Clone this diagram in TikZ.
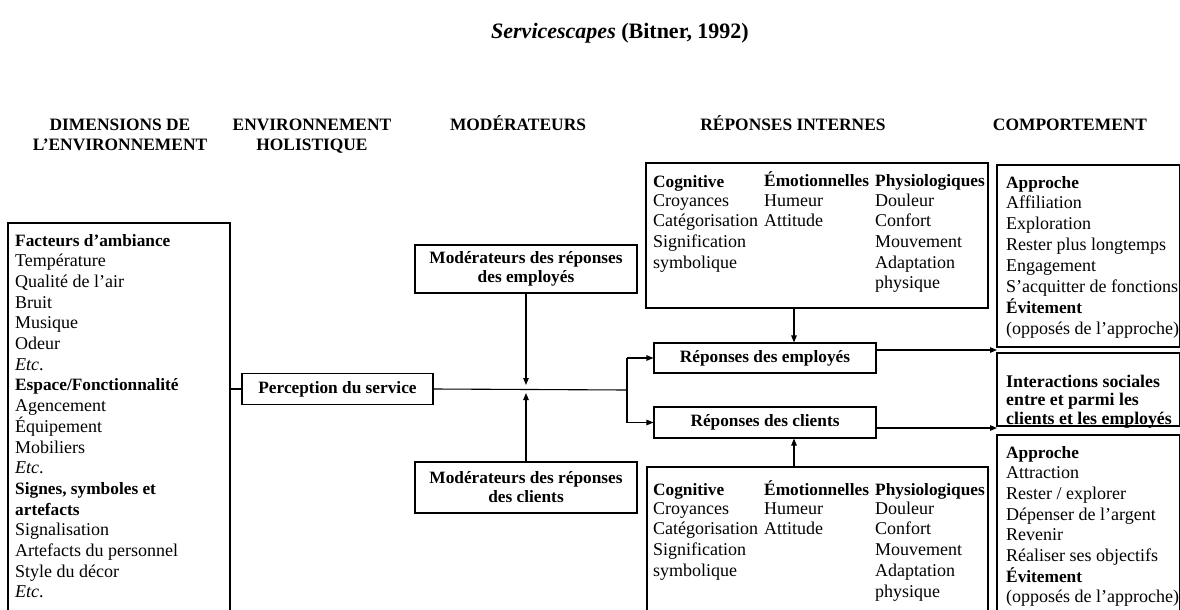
\documentclass[tikz,border=0pt]{standalone}
\usepackage{fontspec}
\setmainfont{Liberation Serif}
\usetikzlibrary{arrows.meta}
\newcommand{\mybold}[1]{{\fontsize{17.3}{20}\selectfont\bfseries #1}}
\begin{document}
\begin{tikzpicture}[x=1pt,y=-1pt,
  frame/.style={draw, line width=1.1pt, inner sep=0pt},
  lbl/.style={frame, font=\fontsize{17.3}{19}\selectfont\bfseries, align=center},
  txt/.style={anchor=base west, inner sep=0pt, font=\fontsize{18}{20.7}\selectfont},
  hdr/.style={anchor=base, inner sep=0pt, font=\fontsize{17.4}{20}\selectfont\bfseries},
  conn/.style={line width=1.1pt},
  arr/.style={line width=1.1pt, -{Triangle[length=7pt,width=5.5pt]}}]
\useasboundingbox (0,0) rectangle (1180,610);
\clip (0,0) rectangle (1180,610);
\fill[white] (0,0) rectangle (1180,610);

% title and column headers
\node[anchor=base, inner sep=0pt, font=\fontsize{22}{26}\selectfont\bfseries] (title) at (620,38) {\textit{Servicescapes} (Bitner, 1992)};
\node[hdr] (h1a) at (120,130) {DIMENSIONS DE};
\node[hdr] (h1b) at (120,150) {L’ENVIRONNEMENT};
\node[hdr] (h2a) at (312,130) {ENVIRONNEMENT};
\node[hdr] (h2b) at (312,150) {HOLISTIQUE};
\node[hdr] (h3) at (518,130) {MODÉRATEURS};
\node[hdr] (h4) at (793,130) {RÉPONSES INTERNES};
\node[hdr] (h5) at (1070,130) {COMPORTEMENT};

% boxes
\node[frame, minimum width=222pt, minimum height=417pt] (leftbox) at (119,431.5) {};
\node[lbl, minimum width=191pt, minimum height=31pt] (perc) at (337.5,389) {Perception du service};
\node[lbl, minimum width=222pt, minimum height=48pt] (modE) at (526,269) {Modérateurs des réponses\\des employés};
\node[lbl, minimum width=222pt, minimum height=51pt] (modC) at (526,487.5) {Modérateurs des réponses\\des clients};
\node[lbl, minimum width=222pt, minimum height=30pt] (repE) at (765,358) {Réponses des employés};
\node[lbl, minimum width=222pt, minimum height=31pt] (repC) at (765,422.5) {Réponses des clients};
\node[frame, minimum width=342pt, minimum height=145pt] (intE) at (817,235.5) {};
\node[frame, minimum width=341pt, minimum height=173pt] (intC) at (817.5,553.5) {};
\node[frame, minimum width=182.4pt, minimum height=182pt] (compE) at (1088.2,256) {};
\node[frame, minimum width=182.4pt, minimum height=73pt] (inter) at (1088.2,389.5) {};
\node[frame, minimum width=182.4pt, minimum height=205pt] (compC) at (1088.2,537.5) {};

% left box text
\foreach \t [count=\i] in {{\mybold{Facteurs d’ambiance}}, Température, Qualité de l’air, Bruit, Musique, Odeur, \textit{Etc}., {\mybold{Espace/Fonctionnalité}}, Agencement, Équipement, Mobiliers, \textit{Etc}., {\mybold{Signes, symboles et}}, {\mybold{artefacts}}, Signalisation, Artefacts du personnel, Style du décor, \textit{Etc}.}
  \node[txt] (dim\i) at (15,{246+(\i-1)*20.7}) {\t};

% internal responses, employees
\node[txt] (eCogH) at (653,187) {\mybold{Cognitive}};
\node[txt] (eEmoH) at (764,186) {\mybold{Émotionnelles}};
\node[txt] (ePhyH) at (875,186) {\mybold{Physiologiques}};
\foreach \t [count=\i] in {Croyances, Catégorisation, Signification, symbolique}
  \node[txt] (eCog\i) at (653,{206+(\i-1)*20.7}) {\t};
\foreach \t [count=\i] in {Humeur, Attitude}
  \node[txt] (eEmo\i) at (764,{206+(\i-1)*20.7}) {\t};
\foreach \t [count=\i] in {Douleur, Confort, Mouvement, Adaptation, physique}
  \node[txt] (ePhy\i) at (875,{206+(\i-1)*20.7}) {\t};

% internal responses, clients
\node[txt] (cCogH) at (653,495) {\mybold{Cognitive}};
\node[txt] (cEmoH) at (764,495) {\mybold{Émotionnelles}};
\node[txt] (cPhyH) at (875,495) {\mybold{Physiologiques}};
\foreach \t [count=\i] in {Croyances, Catégorisation, Signification, symbolique}
  \node[txt] (cCog\i) at (653,{514+(\i-1)*20.8}) {\t};
\foreach \t [count=\i] in {Humeur, Attitude}
  \node[txt] (cEmo\i) at (764,{514+(\i-1)*20.8}) {\t};
\foreach \t [count=\i] in {Douleur, Confort, Mouvement, Adaptation, physique}
  \node[txt] (cPhy\i) at (875,{514+(\i-1)*20.8}) {\t};

% behaviour texts
\foreach \t [count=\i] in {{\mybold{Approche}}, Affiliation, Exploration, Rester plus longtemps, Engagement, S’acquitter de fonctions, {\mybold{Évitement}}, (opposés de l’approche)}
  \node[txt] (bE\i) at (1006,{188+(\i-1)*20.9}) {\t};
\foreach \t [count=\i] in {Interactions sociales, entre et parmi les, clients et les employés}
  \node[txt, font=\fontsize{17.8}{19}\selectfont\bfseries] (soc\i) at (1006,{387+(\i-1)*18.7}) {\t};
\foreach \t [count=\i] in {{\mybold{Approche}}, Attraction, Rester / explorer, Dépenser de l’argent, Revenir, Réaliser ses objectifs, {\mybold{Évitement}}, (opposés de l’approche)}
  \node[txt] (bC\i) at (1006,{458+(\i-1)*20.7}) {\t};

% helper coordinates
\coordinate (j) at (627,390);
\coordinate (brE) at (j |- repE.west);
\coordinate (brC) at (j |- repC.west);
\coordinate (mE) at (526,385);
\coordinate (mC) at (526,393);
\coordinate (aX) at (794,0);
\coordinate (tE) at (997,350);
\coordinate (tC) at (997,428);

% connectors
\draw[conn] (leftbox.east |- perc.west) -- (perc.west);
\draw[conn] (perc.east) -- (j);
\draw[conn] (brE) -- (brC);
\draw[arr] (brE) -- (repE.west);
\draw[arr] (brC) -- (repC.west);
\draw[arr] (modE.south) -- (mE);
\draw[arr] (modC.north) -- (mC);
\draw[arr] (intE.south -| aX) -- (repE.north -| aX);
\draw[arr] (intC.north -| aX) -- (repC.south -| aX);
\draw[arr] ([yshift=8pt]repE.east) -- (tE);
\draw[arr] ([yshift=-5.5pt]repC.east) -- (tC);
\end{tikzpicture}
\end{document}
